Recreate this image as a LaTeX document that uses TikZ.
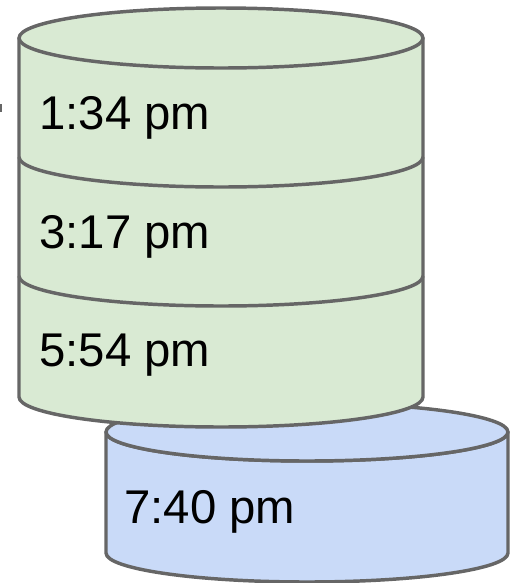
\documentclass[tikz,border=0pt]{standalone}
\usepackage{fontspec}
\setmainfont{Liberation Sans}
\definecolor{edge}{HTML}{666666}
\definecolor{green1}{HTML}{D9EAD3}
\definecolor{blue1}{HTML}{C9DAF8}
\tikzset{cyl/.style={draw=edge,line width=2.6pt,line join=round},
 timelabel/.style={anchor=base west,inner sep=0pt,font=\fontsize{35.5}{39}\selectfont,text=black}}
\begin{document}
\begin{tikzpicture}[x=1pt,y=-1pt]
\useasboundingbox (0,0) rectangle (382.5,437.25);
\begin{scope}[scale=0.75]
% blue cylinder
\draw[cyl,fill=blue1] (106,432) arc[x radius=201,y radius=29,start angle=180,end angle=0] -- (508,553) arc[x radius=201,y radius=29,start angle=0,end angle=180] -- cycle;
\draw[cyl,fill=blue1] (307,432) ellipse[x radius=201,y radius=29];
% green cylinder
\draw[cyl,fill=green1] (19,38) -- (19,397) arc[x radius=202,y radius=30,start angle=180,end angle=0] -- (423,38) -- cycle;
\draw[cyl,fill=green1] (221,38) ellipse[x radius=202,y radius=30];
\draw[cyl] (19,157) arc[x radius=202,y radius=30,start angle=180,end angle=0];
\draw[cyl] (19,276) arc[x radius=202,y radius=30,start angle=180,end angle=0];
\fill[edge] (0,104) rectangle (2,112);
\node[timelabel] (a) at (39,129) {1:34 pm};
\node[timelabel] (b) at (39,248) {3:17 pm};
\node[timelabel] (c) at (39,366) {5:54 pm};
\node[timelabel] (d) at (124,523) {7:40 pm};
\end{scope}
\end{tikzpicture}
\end{document}
